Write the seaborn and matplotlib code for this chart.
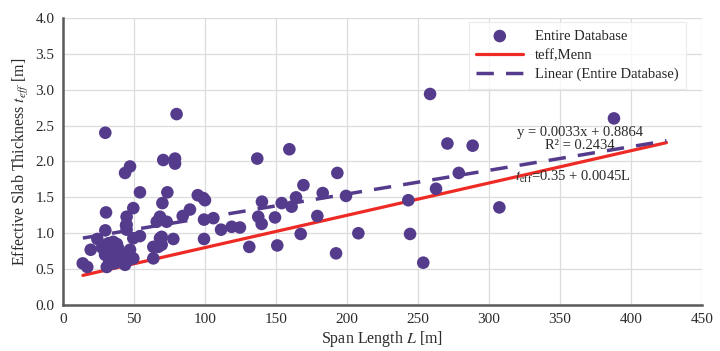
import numpy as np
import pandas as pd
import matplotlib
matplotlib.use("Agg")
import matplotlib.pyplot as plt
import seaborn as sns

# ── Data ─────────────────────────────────────────────────────
span_length = [
    13.9, 17.1, 19.5, 24.2, 30.3, 29.8, 29.8, 31.9, 29.6, 30.8,
    35.4, 36.6, 34.3, 38.9, 40.1, 42.5, 43.7, 47.2, 48.4, 44.4,
    43.7, 47.2, 44.8, 44.8, 44.8, 49.5, 54.2, 49.5, 54.2, 49.5,
    63.6, 63.6, 69.5, 69.5, 70.6, 73.5, 70.0, 68.3, 66.0, 73.0,
    78.9, 78.9, 80.0, 77.7, 84.3, 89.4, 94.9, 100.0, 98.8, 99.3,
    105.9, 99.3, 111.3, 118.8, 124.6, 131.2, 136.8, 137.5, 139.9, 140.1,
    149.3, 150.9, 154.0, 159.4, 161.0, 164.1, 167.4, 169.3, 179.1, 182.9,
    193.2, 192.3, 199.3, 208.0, 258.5, 270.7, 288.5, 278.7, 262.7, 243.2,
    244.4, 253.7, 307.3, 388.0, 33.0, 37.5, 41.0, 27.5, 32.5, 38.0,
    67.1, 68.3, 36.0, 45.5,
]
eff_thickness = [
    0.58, 0.53, 0.77, 0.92, 1.29, 2.40, 1.04, 0.86, 0.70, 0.53,
    0.88, 0.74, 0.63, 0.79, 0.65, 0.70, 0.56, 0.77, 0.65, 1.11,
    1.84, 1.93, 1.23, 1.12, 1.05, 1.35, 1.57, 0.93, 0.96, 0.65,
    0.81, 0.65, 0.84, 0.95, 2.02, 1.57, 1.42, 1.23, 1.16, 1.16,
    2.04, 1.97, 2.66, 0.92, 1.24, 1.33, 1.53, 1.46, 1.49, 1.19,
    1.21, 0.92, 1.05, 1.09, 1.08, 0.81, 2.04, 1.23, 1.13, 1.44,
    1.22, 0.83, 1.42, 2.17, 1.37, 1.50, 0.99, 1.67, 1.24, 1.56,
    1.84, 0.72, 1.52, 1.00, 2.94, 2.25, 2.22, 1.84, 1.62, 1.46,
    0.99, 0.59, 1.36, 2.60, 0.82, 0.68, 0.60, 0.80, 0.60, 0.85,
    0.81, 0.93, 0.58, 0.62,
]

# Excel trendline and Menn design line (coefficients shown on chart)
trend_slope, trend_intercept = 0.0033, 0.8864
menn_a, menn_b = 0.35, 0.0045
line_span = [14, 425]

df = pd.DataFrame({"L": span_length, "t": eff_thickness})
lines = pd.DataFrame({"L": line_span})
lines["trend"] = trend_intercept + trend_slope * lines["L"]
lines["menn"] = menn_a + menn_b * lines["L"]

# ── Style ────────────────────────────────────────────────────
sns.set_style("white")
plt.rcParams["font.family"] = ["Liberation Serif", "DejaVu Serif"]
plt.rcParams["mathtext.fontset"] = "stix"

purple = "#543b8c"
red = "#ee2a24"
txt = "#2b2b2b"

fig = plt.figure(figsize=(7.2, 3.51), dpi=100)
ax = fig.add_axes([0.0875, 0.131, 0.8875, 0.818])

sns.scatterplot(data=df, x="L", y="t", color=purple, s=82, edgecolor="none",
                ax=ax, label="Entire Database", zorder=3)
sns.lineplot(data=lines, x="L", y="menn", color=red, linewidth=2.3,
             ax=ax, label="teff,Menn", zorder=2)
sns.lineplot(data=lines, x="L", y="trend", color=purple, linewidth=2.5,
             dashes=False, ax=ax, label="Linear (Entire Database)", zorder=2)
ax.lines[-1].set_dashes([5, 3.5])

ax.set_xlim(0, 450)
ax.set_ylim(0, 4.0)
ax.set_xticks(np.arange(0, 451, 50))
ax.set_yticks(np.arange(0, 4.01, 0.5))
ax.set_yticklabels([f"{v:.1f}" for v in np.arange(0, 4.01, 0.5)])
ax.grid(True, color="#dcdcdc", linewidth=0.9)
ax.set_axisbelow(True)
for side in ["top", "right"]:
    ax.spines[side].set_visible(False)
for side in ["left", "bottom"]:
    ax.spines[side].set_color("#595959")
    ax.spines[side].set_linewidth(1.8)
ax.tick_params(axis="both", length=0, labelsize=11, colors=txt, pad=6)

ax.set_xlabel(r"Span Length $L$ [m]", fontsize=11.5, color=txt, labelpad=2)
ax.set_ylabel(r"Effective Slab Thickness $t_{eff}$ [m]", fontsize=11.5,
              color=txt, labelpad=3)

ax.text(364, 2.40, "y = 0.0033x + 0.8864", fontsize=10.5, ha="center",
        va="center", color=txt)
ax.text(364, 2.22, "R² = 0.2434", fontsize=10.5, ha="center",
        va="center", color=txt)
ax.text(318, 1.78, r"$t_{\rm eff}$=0.35 + 0.0045L", fontsize=10.5,
        ha="left", va="center", color=txt)

leg = ax.legend(loc="upper right", bbox_to_anchor=(0.9625, 0.957),
                bbox_transform=fig.transFigure, fontsize=10.5,
                frameon=True, fancybox=False, edgecolor="#e6e6e6",
                handlelength=3.2, borderpad=0.5, labelspacing=0.4)
leg.get_frame().set_linewidth(0.8)

fig.savefig("out.png", dpi=100)
